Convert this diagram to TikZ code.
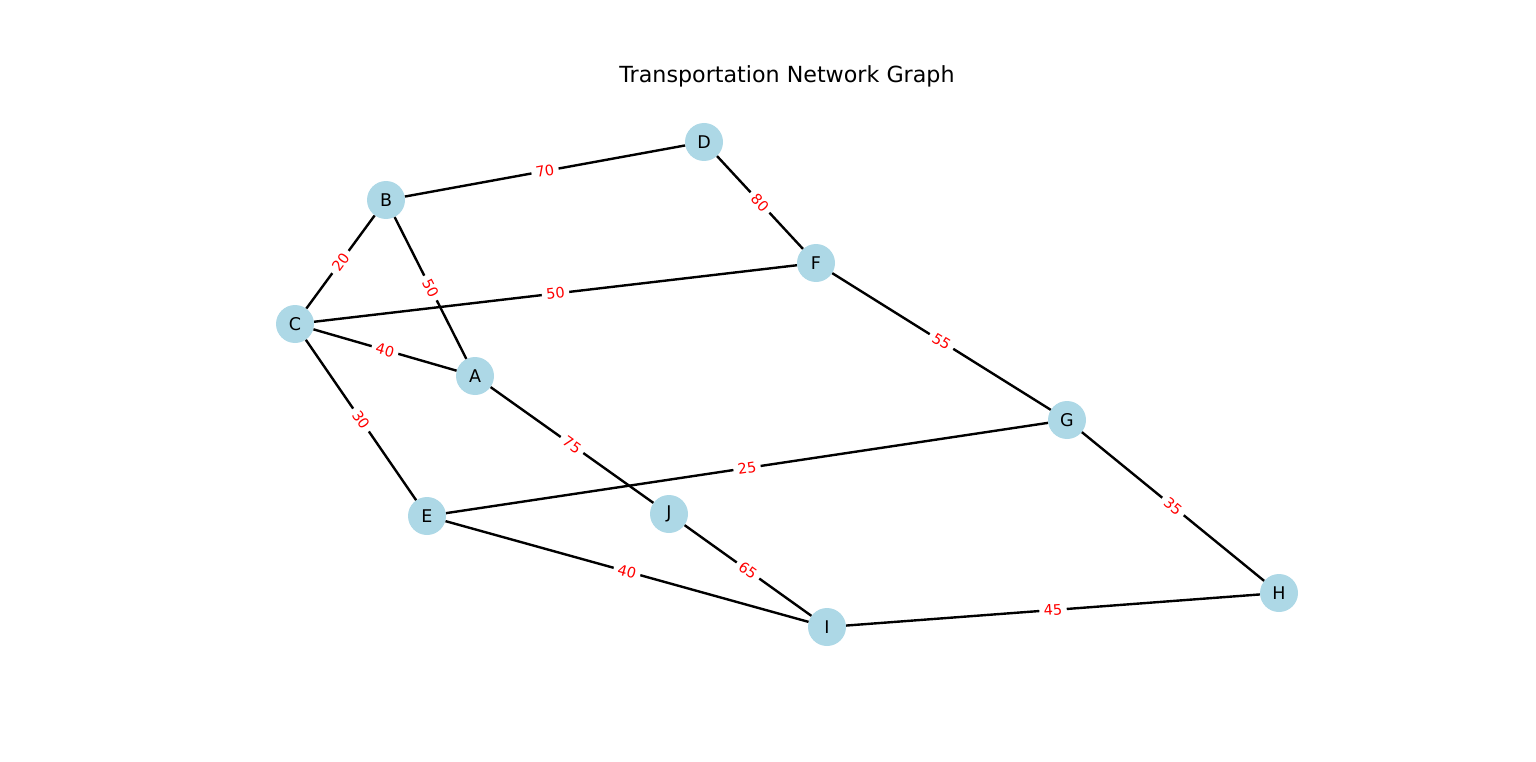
\documentclass[tikz,border=0pt]{standalone}
\usepackage{fontspec}
\setmainfont{DejaVu Sans}
\usepackage{xcolor}
\usepackage{tikz}
\tikzset{>=latex}
\definecolor{stopblue}{RGB}{173,216,230}
\tikzset{
    stop/.style={circle, fill=stopblue, minimum size=38pt, inner sep=0pt, font=\fontsize{17.5}{19}\selectfont},
    road/.style={line width=2.4pt, black},
    weight/.style={midway, sloped, fill=white, inner xsep=4.5pt, inner ysep=1pt, text=red, font=\fontsize{14.5}{16}\selectfont}
}

\begin{document}
\begin{tikzpicture}[x=1pt, y=-1pt]

    \useasboundingbox (0,0) rectangle (1536,762);

    % Title
    \node[font=\fontsize{22.2}{24}\selectfont] (title) at (787,76) {Transportation Network Graph};

    % Stops
    \node[stop] (D) at (704,142) {D};
    \node[stop] (B) at (386,200) {B};
    \node[stop] (F) at (816,263) {F};
    \node[stop] (C) at (295,324) {C};
    \node[stop] (A) at (475,376) {A};
    \node[stop] (G) at (1067,420) {G};
    \node[stop] (E) at (427,516) {E};
    \node[stop] (J) at (669,514) {J};
    \node[stop] (H) at (1279,593) {H};
    \node[stop] (I) at (827,627) {I};

    % Roads
    \foreach \u/\v/\w in {B/D/70, D/F/80, B/C/20, B/A/50, C/F/50, C/A/40, C/E/30,
                          A/J/75, F/G/55, E/G/25, E/I/40, J/I/65, G/H/35, I/H/45}{
        \draw[road] (\u) -- node[weight] {\w} (\v);
    }

\end{tikzpicture}
\end{document}
